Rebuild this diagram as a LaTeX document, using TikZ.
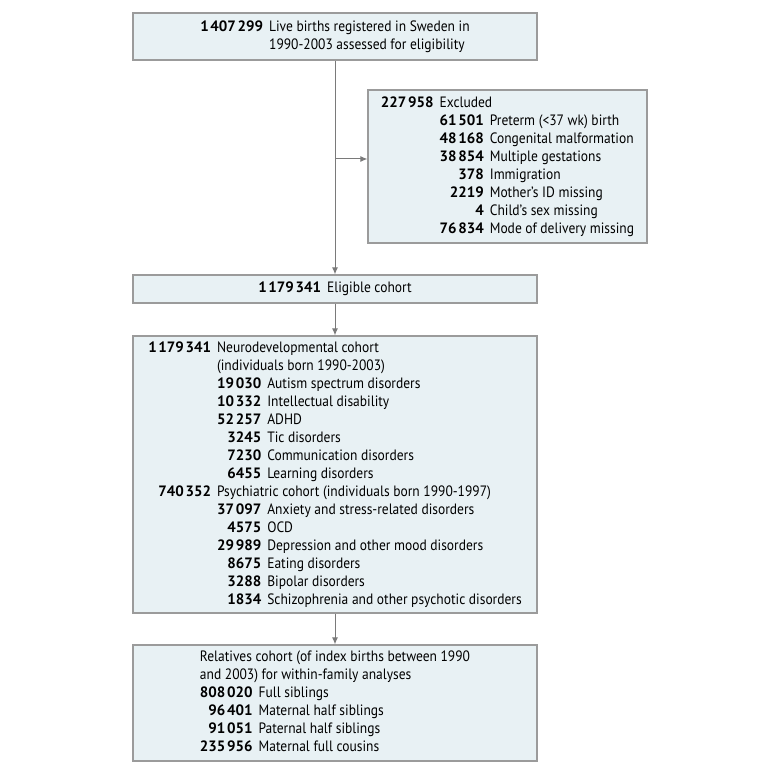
\documentclass[tikz,border=0pt]{standalone}
\usepackage{fontspec}
\setmainfont[FakeStretch=0.9]{PT Sans}
\newfontfamily\numfont{PT Sans}
\usepackage{array}
\usetikzlibrary{arrows.meta}
\definecolor{boxfill}{HTML}{E8F1F4}
\definecolor{boxline}{HTML}{9B9B9B}
\definecolor{flowline}{HTML}{7A7A7A}
\newcommand{\nb}[1]{{\numfont\bfseries #1}}
\newcommand{\ths}{\hspace{0.11em}}

\begin{document}
\begin{tikzpicture}[x=1pt,y=-1pt,
    font=\fontsize{15}{18}\selectfont,
    >={Latex[length=7,width=6]},
    box/.style={draw=boxline, fill=boxfill, line width=1.2pt, inner sep=0pt},
    flow/.style={draw=flowline, line width=1pt}]
\useasboundingbox (0,0) rectangle (780,775);

% boxes
\node[box, minimum width=404, minimum height=47] (births) at (335,36.5) {%
  \begin{tabular}{@{}r@{\hspace{6pt}}l@{}}
  \nb{1\ths407\ths299} & Live births registered in Sweden in\\
   & 1990-2003 assessed for eligibility
  \end{tabular}};
\node[box, minimum width=279, minimum height=153] (excl) at (507.5,166.5) {%
  \begin{tabular}{@{}r@{\hspace{6pt}}r@{\hspace{6pt}}l@{}}
  \nb{227\ths958} & \multicolumn{2}{@{}l@{}}{Excluded}\\
   & \nb{61\ths501} & Preterm (<37 wk) birth\\
   & \nb{48\ths168} & Congenital malformation\\
   & \nb{38\ths854} & Multiple gestations\\
   & \nb{378} & Immigration\\
   & \nb{2219} & Mother's ID missing\\
   & \nb{4} & Child's sex missing\\
   & \nb{76\ths834} & Mode of delivery missing
  \end{tabular}};
\node[box, minimum width=404, minimum height=28] (elig) at (335,289) {%
  \nb{1\ths179\ths341}\hspace{6pt}Eligible cohort};
\node[box, minimum width=404, minimum height=277] (neuro) at (335,474.5) {%
  \begin{tabular}{@{}r@{\hspace{6pt}}r@{\hspace{6pt}}l@{}}
  \nb{1\ths179\ths341} & \multicolumn{2}{@{}l@{}}{Neurodevelopmental cohort}\\
   & \multicolumn{2}{@{}l@{}}{(individuals born 1990-2003)}\\
   & \nb{19\ths030} & Autism spectrum disorders\\
   & \nb{10\ths332} & Intellectual disability\\
   & \nb{52\ths257} & ADHD\\
   & \nb{3245} & Tic disorders\\
   & \nb{7230} & Communication disorders\\
   & \nb{6455} & Learning disorders\\
  \nb{740\ths352} & \multicolumn{2}{@{}l@{}}{Psychiatric cohort (individuals born 1990-1997)}\\
   & \nb{37\ths097} & Anxiety and stress-related disorders\\
   & \nb{4575} & OCD\\
   & \nb{29\ths989} & Depression and other mood disorders\\
   & \nb{8675} & Eating disorders\\
   & \nb{3288} & Bipolar disorders\\
   & \nb{1834} & Schizophrenia and other psychotic disorders
  \end{tabular}};
\node[box, minimum width=404, minimum height=116] (rel) at (335,703) {%
  \begin{tabular}{@{}r@{\hspace{6pt}}l@{}}
  \multicolumn{2}{@{}l@{}}{Relatives cohort (of index births between 1990}\\
  \multicolumn{2}{@{}l@{}}{and 2003) for within-family analyses}\\
  \nb{808\ths020} & Full siblings\\
  \nb{96\ths401} & Maternal half siblings\\
  \nb{91\ths051} & Paternal half siblings\\
  \nb{235\ths956} & Maternal full cousins
  \end{tabular}};

% connectors
\coordinate (split) at (335,159);
\draw[flow,->] (births) -- (elig);
\draw[flow,->] (split) -- (split -| excl.west);
\draw[flow,->] (elig) -- (neuro);
\draw[flow,->] (neuro) -- (rel);
\end{tikzpicture}
\end{document}
